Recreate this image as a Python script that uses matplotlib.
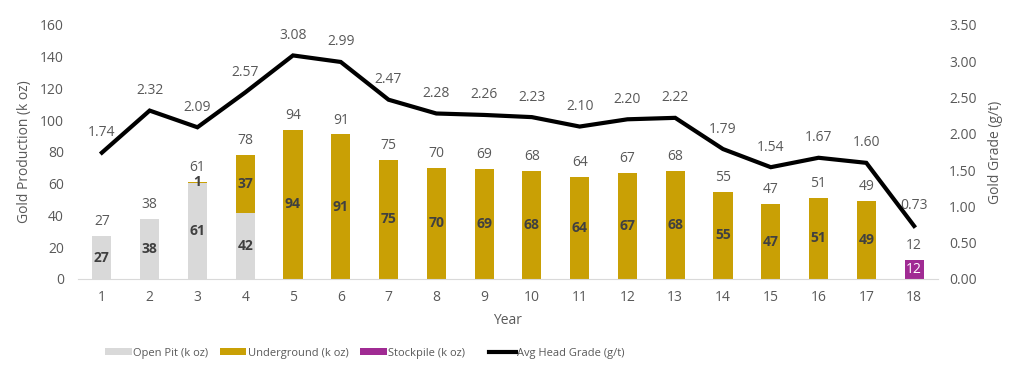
import matplotlib.pyplot as plt
import numpy as np

plt.rcParams['font.family'] = ['Open Sans', 'DejaVu Sans']

years = list(range(1, 19))
open_pit = [27, 38, 60.6, 41.6, 0, 0, 0, 0, 0, 0, 0, 0, 0, 0, 0, 0, 0, 0]
underground = [0, 0, 0.6, 36.7, 94, 91, 75, 70, 69, 68, 64, 67, 68, 55, 47, 51, 49, 0]
stockpile = [0, 0, 0, 0, 0, 0, 0, 0, 0, 0, 0, 0, 0, 0, 0, 0, 0, 12]
grade = [1.74, 2.32, 2.09, 2.57, 3.08, 2.99, 2.47, 2.28, 2.26, 2.23, 2.10, 2.20,
         2.22, 1.79, 1.54, 1.67, 1.60, 0.73]

c_op = '#D9D9D9'
c_ug = '#C9A005'
c_sp = '#A02B93'
txt = '#595959'
dark = '#404040'

fig = plt.figure(figsize=(10.22, 3.78), dpi=100)
ax = fig.add_axes([0.0763, 0.262, 0.8415, 0.672])
ax2 = ax.twinx()

x = np.array(years)
w = 0.4
op = np.array(open_pit)
ug = np.array(underground)
sp = np.array(stockpile)
ax.bar(x, op, w, color=c_op, label='Open Pit (k oz)', zorder=2)
ax.bar(x, ug, w, bottom=op, color=c_ug, label='Underground (k oz)', zorder=2)
ax.bar(x, sp, w, bottom=op + ug, color=c_sp, label='Stockpile (k oz)', zorder=2)

# segment labels
for i in range(len(x)):
    if op[i] > 0:
        ax.text(x[i], op[i] / 2, f'{op[i]:.0f}', ha='center', va='center',
                fontsize=10, fontweight='bold', color=dark, zorder=3)
    if ug[i] > 0:
        ax.text(x[i], op[i] + ug[i] / 2, f'{ug[i]:.0f}', ha='center', va='center',
                fontsize=10, fontweight='bold', color=dark, zorder=3)
    if sp[i] > 0:
        ax.text(x[i], op[i] + ug[i] + sp[i] / 2, f'{sp[i]:.0f}', ha='center', va='center',
                fontsize=10, color='white', zorder=3)
    total = op[i] + ug[i] + sp[i]
    ax.annotate(f'{total:.0f}', (x[i], total), xytext=(0, 5), textcoords='offset points',
                ha='center', va='bottom', fontsize=10, color=txt)

ax2.plot(x, grade, color='black', lw=3, label='Avg Head Grade (g/t)', zorder=4,
         solid_joinstyle='miter')
for xi, g in zip(x, grade):
    ax2.annotate(f'{g:.2f}', (xi, g), xytext=(0, 9), textcoords='offset points',
                 ha='center', va='bottom', fontsize=10, color=txt)

ax.set_xlim(0.5, 18.5)
ax.set_ylim(0, 160)
ax.set_yticks(range(0, 161, 20))
ax2.set_ylim(0, 3.5)
ax2.set_yticks(np.arange(0, 3.51, 0.5))
ax2.set_yticklabels([f'{v:.2f}' for v in np.arange(0, 3.51, 0.5)])
ax.set_xticks(x)

for a in (ax, ax2):
    for s in a.spines.values():
        s.set_visible(False)
    a.tick_params(length=0, labelsize=10, colors=txt)
ax.spines['bottom'].set_visible(True)
ax.spines['bottom'].set_color('#D9D9D9')
ax.tick_params(axis='x', pad=8)
ax.tick_params(axis='y', pad=10)
ax2.tick_params(axis='y', pad=8)

ax.set_xlabel('Year', fontsize=10, color=txt, labelpad=6)
ax.set_ylabel('Gold Production (k oz)', fontsize=10, color=txt, labelpad=6)
ax2.set_ylabel('Gold Grade (g/t)', fontsize=10, color=txt, labelpad=8)

h1, l1 = ax.get_legend_handles_labels()
h2, l2 = ax2.get_legend_handles_labels()
leg1 = fig.legend(h1, l1, loc='center', bbox_to_anchor=(0.279, 0.066), ncol=3,
                  frameon=False, fontsize=8, handlelength=2.4, handleheight=0.6,
                  columnspacing=1.0, handletextpad=0.15)
leg2 = fig.legend(h2, l2, loc='center', bbox_to_anchor=(0.545, 0.066), ncol=1,
                  frameon=False, fontsize=8, handlelength=2.4, handletextpad=0.15)
for lg in (leg1, leg2):
    for t in lg.get_texts():
        t.set_color(txt)

fig.savefig('out.png', dpi=100)
